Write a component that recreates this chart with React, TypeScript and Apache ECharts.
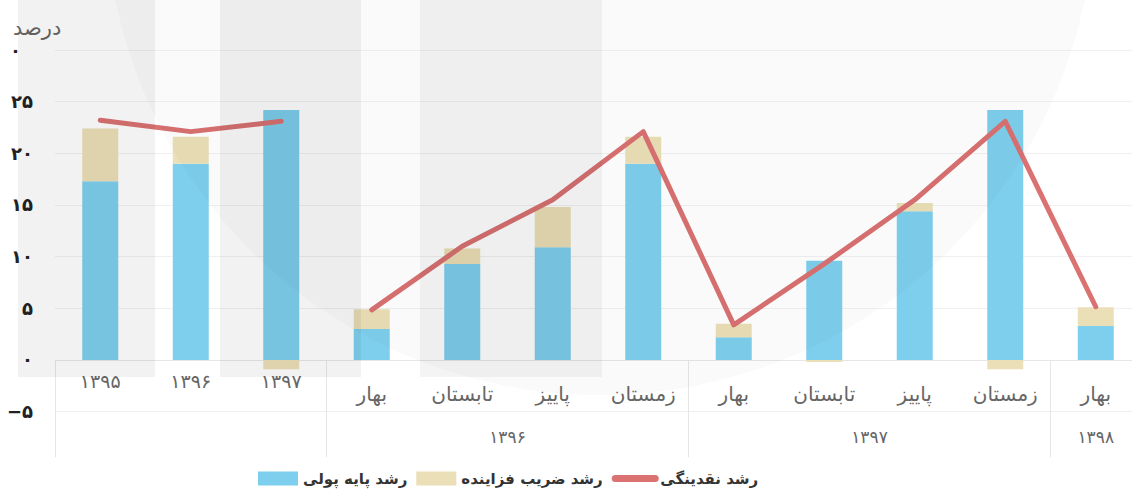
import React, { useEffect, useRef } from "react";
import * as echarts from "echarts";

const categories = ["۱۳۹۵", "۱۳۹۶", "۱۳۹۷", "بهار", "تابستان", "پاییز", "زمستان", "بهار", "تابستان", "پاییز", "زمستان", "بهار"];
const groupLabels = ["۱۳۹۶", "۱۳۹۷", "۱۳۹۸"];
const groupCenters = [5, 9, 11.5];
const groupBounds = [0, 3, 7, 11, 12];

const baseGrowth = [17.3, 19.0, 24.2, 3.0, 9.3, 10.9, 19.0, 2.2, 9.6, 14.4, 24.2, 3.3];
const multiplierGrowth = [5.1, 2.6, -0.9, 1.9, 1.5, 3.9, 2.6, 1.3, -0.2, 0.8, -0.9, 1.8];
const liquidityAnnual = [23.2, 22.1, 23.1, "-", "-", "-", "-", "-", "-", "-", "-", "-"];
const liquidityQuarterly = ["-", "-", "-", 4.85, 11.0, 15.5, 22.1, 3.4, 9.3, 15.5, 23.1, 5.15];

const yTicks = [-10, -5, 0, 5, 10, 15, 20, 25, 30];

const names = ["رشد پایه پولی", "رشد ضریب فزاینده", "رشد نقدینگی"];

const toFa = (n: number | string) =>
  String(n).replace(/\d/g, (d) => "۰۱۲۳۴۵۶۷۸۹"[Number(d)]).replace("-", "−");

const FONT = "DejaVu Sans";

const GRID_TOP = 50;
const GRID_H = 413.3;
const Y_MIN = -10;
const Y_MAX = 30;
const zeroOffset = -(GRID_H * (0 - Y_MIN)) / (Y_MAX - Y_MIN);

export default function App() {
  const ref = useRef<HTMLDivElement>(null);
  useEffect(() => {
    if (!ref.current) return;
    const chart = echarts.init(ref.current, null, { renderer: "svg" });
    const option: any = {
      animation: false,
      backgroundColor: "#ffffff",
      textStyle: { fontFamily: FONT },
      title: {
        text: "درصد",
        left: 8,
        top: 12,
        textStyle: { fontFamily: FONT, fontSize: 21, fontWeight: "normal", color: "#666" },
      },
      legend: {
        data: [
          { name: names[0], icon: "rect" },
          { name: names[1], icon: "rect" },
          { name: names[2], itemStyle: { opacity: 0 }, lineStyle: { width: 7, cap: "round" } },
        ],
        left: 253,
        top: 466,
        itemWidth: 40,
        itemHeight: 14,
        itemGap: 9,
        textStyle: { fontFamily: FONT, fontSize: 15, fontWeight: "bold", color: "#333" },
      },
      grid: { left: 55, top: GRID_TOP, width: 1086, height: GRID_H, outerBoundsMode: "none", containLabel: false },
      xAxis: [
        {
          type: "category",
          data: categories,
          position: "bottom",
          offset: zeroOffset,
          axisLine: { show: true, onZero: false, lineStyle: { color: "#e6e6e6", width: 1 } },
          axisTick: { show: false },
          axisLabel: {
            interval: 0,
            margin: 12,
            hideOverlap: false,
            formatter: (v: string, i: number) => (i < 3 ? `{y|${v}}` : `{q|${v}}`),
            rich: {
              y: { fontFamily: FONT, fontSize: 19, color: "#666" },
              q: { fontFamily: FONT, fontSize: 20, color: "#666", padding: [12, 0, 0, 0] },
            },
          },
          splitLine: { show: false },
        },
        {
          type: "value",
          min: 0,
          max: 12,
          position: "bottom",
          offset: -6,
          axisLine: { show: false, onZero: false },
          axisTick: {
            show: true,
            inside: true,
            length: 97,
            customValues: groupBounds,
            lineStyle: { color: "#e6e6e6", width: 1 },
          },
          axisLabel: {
            inside: true,
            margin: 12,
            customValues: groupCenters,
            formatter: (v: number) => {
              const k = groupCenters.indexOf(v);
              return k >= 0 ? groupLabels[k] : "";
            },
            fontFamily: FONT,
            fontSize: 17,
            color: "#666",
          },
          splitLine: { show: false },
        },
      ],
      yAxis: {
        type: "value",
        min: Y_MIN,
        max: Y_MAX,
        interval: 5,
        axisLine: { show: false, onZero: false },
        axisTick: { show: false },
        splitLine: { show: true, showMinLine: false, lineStyle: { color: "#f0f0f0" } },
        axisLabel: {
          showMinLabel: false,
          margin: 22,
          formatter: (v: number) => {
            if (!yTicks.includes(v)) return "";
            if (v === 30) return "{t|۰}";
            return `{n|${toFa(v)}}`;
          },
          rich: {
            n: { fontFamily: FONT, fontSize: 18, fontWeight: "bold", color: "#222" },
            t: { fontFamily: FONT, fontSize: 18, fontWeight: "bold", color: "#222", padding: [0, 12, 0, 0] },
          },
        },
      },
      series: [
        {
          name: names[0],
          type: "bar",
          stack: "g",
          barWidth: 36,
          data: baseGrowth,
          itemStyle: { color: "#7ecfed" },
        },
        {
          name: names[1],
          type: "bar",
          stack: "g",
          barWidth: 36,
          data: multiplierGrowth,
          itemStyle: { color: "#eadfb6" },
        },
        {
          name: names[2],
          type: "line",
          data: liquidityAnnual,
          symbol: "none",
          showSymbol: false,
          lineStyle: { color: "#da7272", width: 5, cap: "round", join: "round" },
          itemStyle: { color: "#da7272" },
          z: 5,
        },
        {
          name: names[2],
          type: "line",
          data: liquidityQuarterly,
          symbol: "none",
          showSymbol: false,
          lineStyle: { color: "#da7272", width: 5, cap: "round", join: "round" },
          itemStyle: { color: "#da7272" },
          z: 5,
        },
      ],
      graphic: [
        { type: "circle", silent: true, z: 99, shape: { cx: 600, cy: -100, r: 495 }, style: { fill: "rgba(0,0,0,0.018)" } },
        { type: "rect", silent: true, z: 100, shape: { x: 18, y: 0, width: 137, height: 377 }, style: { fill: "rgba(0,0,0,0.05)" } },
        { type: "rect", silent: true, z: 100, shape: { x: 220, y: 0, width: 141, height: 377 }, style: { fill: "rgba(0,0,0,0.05)" } },
        { type: "rect", silent: true, z: 100, shape: { x: 420, y: 0, width: 182, height: 377 }, style: { fill: "rgba(0,0,0,0.045)" } },
      ],
    };
    chart.setOption(option);
    return () => chart.dispose();
  }, []);
  return <div ref={ref} style={{ position: "absolute", left: 0, top: 0, width: 1132, height: 491 }} />;
}
